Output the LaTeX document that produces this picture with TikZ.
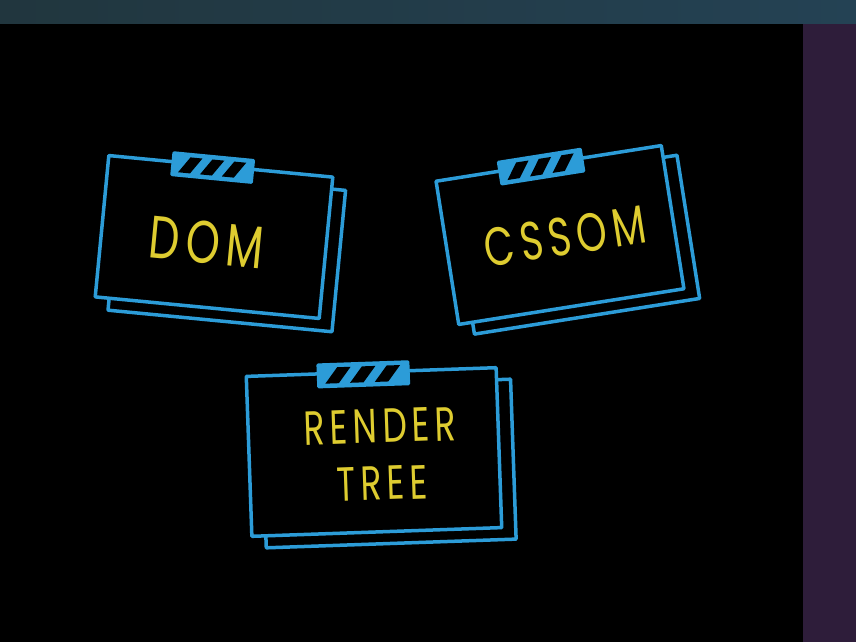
\documentclass[tikz,border=0pt]{standalone}
\usepackage{fontspec}
\setmainfont{Poppins}[LetterSpace=15]
\usetikzlibrary{calc}

\definecolor{chalkblue}{RGB}{44,156,216}
\definecolor{chalkyellow}{RGB}{222,204,48}
\definecolor{barleft}{RGB}{33,54,62}
\definecolor{barright}{RGB}{36,66,84}
\definecolor{sidebar}{RGB}{46,29,58}

\begin{document}
\begin{tikzpicture}[x=1pt, y=-1pt,
    card/.style={draw=chalkblue, line width=3.5pt, fill=black, line join=round},
    tape/.style={draw=chalkblue, line width=3pt, fill=chalkblue, line join=round},
    cardtext/.style={text=chalkyellow, align=center, transform shape, xscale=0.72, inner sep=0pt}]
  % screen background
  \fill[black] (0,0) rectangle (856,642);
  \shade[left color=barleft, right color=barright] (0,0) rectangle (856,24);
  \fill[sidebar] (803,24) rectangle (856,642);
  % the three cards
  \foreach \name/\cx/\cy/\rot/\w/\h/\tw/\tx/\ty/\fs/\txt in {
      dom/214/237/-5.5/225/142/80/-7/6/60/DOM,
      cssom/560/235/9/228/145/83/5/2/54/CSSOM,
      render/374/452/2/250/160/90/7/3/48/{RENDER\\TREE}} {
    \begin{scope}[shift={(\cx,\cy)}, rotate=\rot]
      \draw[card] (-\w/2+14,-\h/2+12) rectangle (\w/2+14,\h/2+12);
      \draw[card] (-\w/2,-\h/2) rectangle (\w/2,\h/2);
      \begin{scope}[shift={(-8,-\h/2+2)}, xscale=\tw/80]
        \draw[tape] (-40,-11) rectangle (40,11);
        \foreach \k in {0,1,2}
          \fill[black] (-34+22*\k,8) -- (-22+22*\k,8) -- (-11+22*\k,-8) -- (-23+22*\k,-8) -- cycle;
      \end{scope}
      \node[cardtext, font=\fontsize{\fs}{57}\selectfont] (\name) at (\tx,\ty) {\txt};
    \end{scope}
  }
\end{tikzpicture}
\end{document}
